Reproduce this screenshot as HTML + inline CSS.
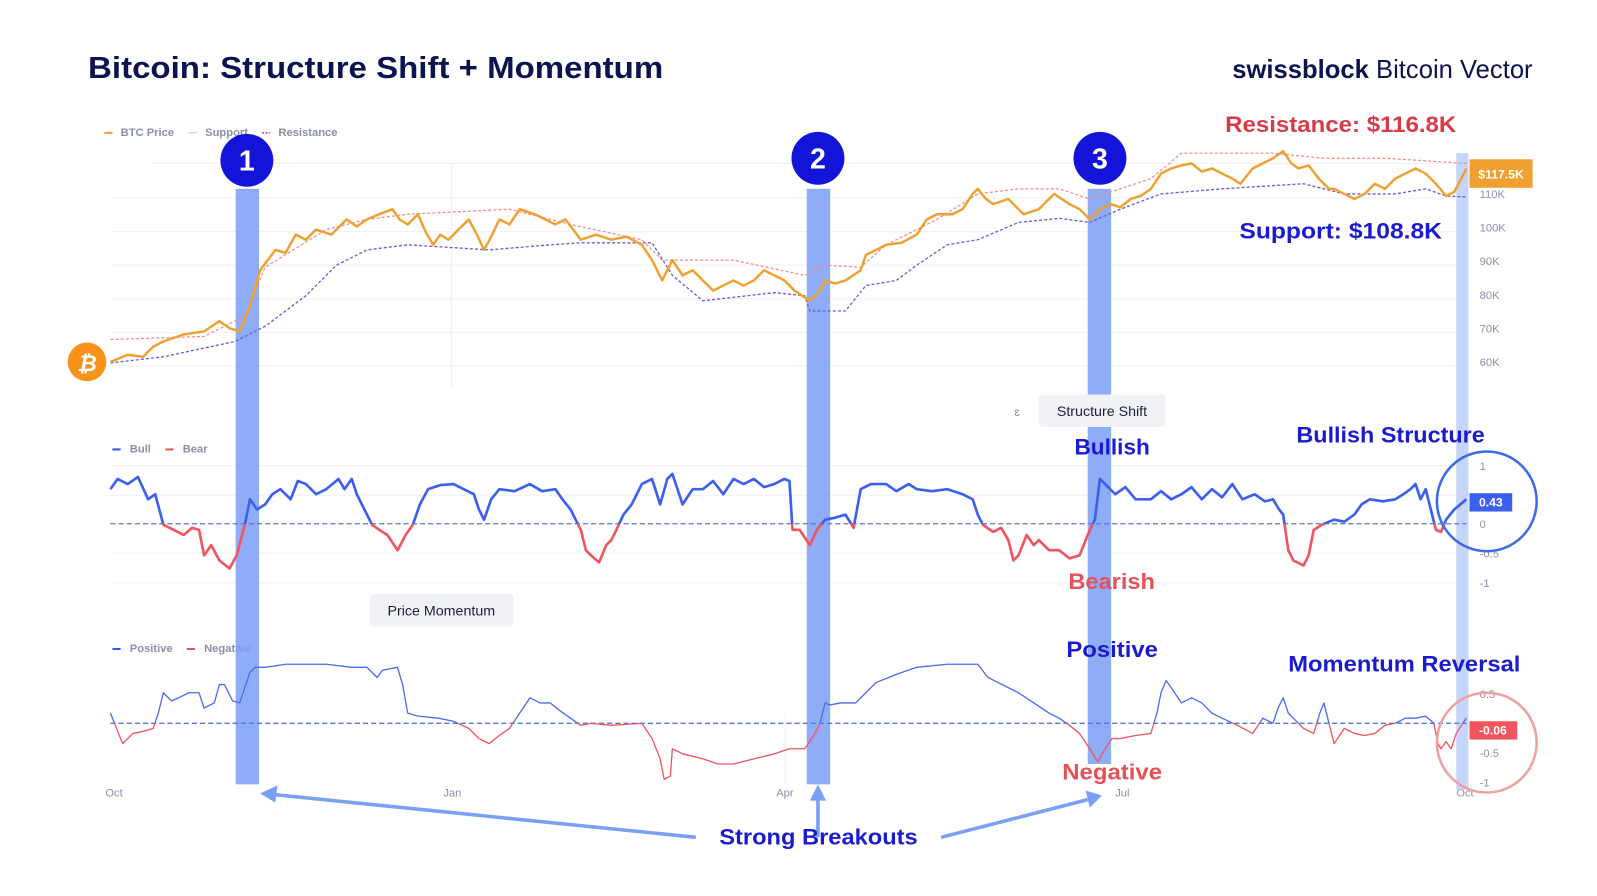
<!DOCTYPE html>
<html><head><meta charset="utf-8"><style>
html,body{margin:0;padding:0;background:#fff;}
svg{display:block;font-family:"Liberation Sans",sans-serif;}
</style></head><body>
<svg width="1597" height="896" viewBox="0 0 1597 896">
<defs>
<clipPath id="sa"><rect x="0" y="0" width="1597" height="514"/></clipPath>
<clipPath id="sb"><rect x="0" y="514" width="1597" height="400"/></clipPath>
<clipPath id="ma"><rect x="0" y="0" width="1597" height="710"/></clipPath>
<clipPath id="mb"><rect x="0" y="710" width="1597" height="400"/></clipPath>
</defs>
<rect width="1597" height="896" fill="#fff"/>
<g transform="translate(0.5,0.5) scale(1.018)">
<text x="86" y="76" font-size="30" font-weight="bold" fill="#0c1450" textLength="565" lengthAdjust="spacingAndGlyphs">Bitcoin: Structure Shift + Momentum</text>
<text x="1210" y="76" font-size="25" font-weight="bold" fill="#0c1450" textLength="295" lengthAdjust="spacingAndGlyphs">swissblock <tspan font-weight="normal">Bitcoin Vector</tspan></text>

<g font-size="11" font-weight="bold" fill="#8a8fa8">
<line x1="102" y1="130" x2="110" y2="130" stroke="#f0a030" stroke-width="2"/><text x="118" y="133">BTC Price</text>
<line x1="185" y1="130" x2="193" y2="130" stroke="#b8c4e8" stroke-width="1"/><text x="201" y="133">Support</text>
<line x1="257" y1="130" x2="265" y2="130" stroke="#d04060" stroke-width="1.5" stroke-dasharray="2,1.5"/><text x="273" y="133">Resistance</text>
<line x1="110" y1="441" x2="118" y2="441" stroke="#3355ee" stroke-width="2"/><text x="127" y="444">Bull</text>
<line x1="162" y1="441" x2="170" y2="441" stroke="#ee5555" stroke-width="2"/><text x="179" y="444">Bear</text>
<line x1="110" y1="637" x2="118" y2="637" stroke="#3355ee" stroke-width="2"/><text x="127" y="640">Positive</text>
<line x1="183" y1="637" x2="191" y2="637" stroke="#ee5555" stroke-width="2"/><text x="200" y="640">Negative</text>
</g>

<g stroke="#eef0f4" stroke-width="1">
<line x1="150" y1="160" x2="1440" y2="160"/><line x1="108" y1="194" x2="1440" y2="194"/>
<line x1="108" y1="227" x2="1440" y2="227"/><line x1="108" y1="260" x2="1440" y2="260"/>
<line x1="108" y1="293" x2="1440" y2="293"/><line x1="108" y1="326" x2="1440" y2="326"/>
<line x1="108" y1="359" x2="1440" y2="359"/>
<line x1="108" y1="457" x2="1440" y2="457"/><line x1="108" y1="486" x2="1440" y2="486"/>
<line x1="108" y1="543" x2="1440" y2="543"/><line x1="108" y1="572" x2="1440" y2="572"/>
<line x1="443" y1="160" x2="443" y2="380"/>
<line x1="771" y1="700" x2="771" y2="770"/>
</g>
<g font-size="11" fill="#8a8fa8">
<text x="1453" y="194">110K</text><text x="1453" y="227">100K</text><text x="1453" y="260">90K</text>
<text x="1453" y="293">80K</text><text x="1453" y="326">70K</text><text x="1453" y="359">60K</text>
<text x="1453" y="461">1</text><text x="1453" y="518">0</text><text x="1453" y="547">-0.5</text><text x="1453" y="576">-1</text>
<text x="1453" y="685">0.5</text><text x="1453" y="743">-0.5</text><text x="1453" y="772">-1</text>
<text x="103" y="782">Oct</text><text x="435" y="782">Jan</text><text x="762" y="782">Apr</text><text x="1095" y="782">Jul</text><text x="1430" y="782">Oct</text>
</g>

<rect x="231" y="185" width="23" height="585" fill="#7a9ff5" opacity="0.85"/>
<rect x="792" y="185" width="23" height="585" fill="#7a9ff5" opacity="0.85"/>
<rect x="1068" y="185" width="23" height="565" fill="#7a9ff5" opacity="0.85"/>
<rect x="1430" y="150" width="12" height="625" fill="#c6d6fb"/>

<polyline fill="none" stroke="#6a5fd0" stroke-width="1.3" stroke-dasharray="3,2" points="108,356 160,350 230,335 260,320 300,290 330,260 360,245 400,240 480,245 540,240 570,238 640,238 660,270 690,295 760,287 790,290 795,305 830,305 850,280 880,275 900,260 930,240 960,235 1000,218 1040,214 1070,218 1100,205 1140,190 1200,185 1280,180 1320,190 1370,190 1400,185 1420,192 1440,193"/>
<polyline fill="none" stroke="#f08a90" stroke-width="1.2" stroke-dasharray="3,2" points="108,333 200,330 240,310 260,262 320,225 360,215 400,210 500,205 560,220 630,235 650,255 720,255 790,270 810,260 845,262 870,240 920,215 960,190 1000,185 1040,185 1070,195 1130,175 1160,150 1250,150 1300,155 1360,155 1440,160"/>
<polyline fill="none" stroke="#f0a030" stroke-width="2.4" stroke-linejoin="round" points="108,355 125,348 140,350 150,340 160,335 180,328 200,325 215,315 225,322 235,325 245,300 255,265 270,245 280,248 290,230 300,235 310,225 325,230 340,215 350,222 360,215 372,210 385,205 392,215 400,220 410,210 418,228 425,240 432,230 440,235 450,225 460,215 468,230 475,245 482,232 490,215 500,220 510,205 525,210 535,215 545,220 555,215 570,235 585,230 600,235 615,232 630,240 640,255 650,275 660,255 670,270 680,265 690,275 700,285 710,280 720,275 730,280 740,275 750,265 760,270 770,275 780,285 795,295 805,285 810,275 820,278 830,275 845,265 850,250 860,245 870,240 885,238 900,230 910,215 920,210 935,210 945,205 955,190 960,185 968,195 975,200 990,195 1000,205 1005,210 1020,205 1035,190 1050,200 1060,205 1070,215 1080,205 1090,200 1100,203 1110,195 1120,192 1130,185 1140,170 1150,165 1160,162 1170,160 1180,168 1190,165 1200,170 1210,175 1218,180 1230,165 1240,160 1250,155 1260,148 1268,160 1275,165 1285,162 1295,175 1305,185 1310,185 1320,190 1330,195 1340,190 1350,180 1360,185 1370,175 1380,170 1390,165 1400,170 1410,180 1420,192 1428,188 1435,175 1440,165"/>
<rect x="1443" y="156" width="62" height="28" fill="#f0a030"/>
<text x="1474" y="175" font-size="12" font-weight="bold" fill="#fff" text-anchor="middle">$117.5K</text>
<circle cx="85" cy="355" r="19" fill="#f7931a"/>
<text x="85" y="364" font-size="22" font-weight="bold" fill="#fff" text-anchor="middle" font-style="italic">₿</text>
<text x="1203" y="129" font-size="22" font-weight="bold" fill="#d83a48" textLength="227" lengthAdjust="spacingAndGlyphs">Resistance: $116.8K</text>
<text x="1217" y="234" font-size="22" font-weight="bold" fill="#1a1ad0" textLength="199" lengthAdjust="spacingAndGlyphs">Support: $108.8K</text>

<g font-size="28" font-weight="bold" fill="#fff" text-anchor="middle">
<circle cx="242" cy="157" r="26" fill="#1414d8"/><text x="242" y="167">1</text>
<circle cx="803" cy="155" r="26" fill="#1414d8"/><text x="803" y="165">2</text>
<circle cx="1080" cy="155" r="26" fill="#1414d8"/><text x="1080" y="165">3</text>
</g>

<rect x="1020" y="387" width="124" height="32" rx="3" fill="#f1f2f5"/>
<text x="1082" y="408" font-size="14" fill="#1a1f40" text-anchor="middle">Structure Shift</text>
<text x="996" y="408" font-size="12" fill="#888">ɛ</text>
<line x1="108" y1="514" x2="1440" y2="514" stroke="#5577dd" stroke-width="1.3" stroke-dasharray="5,3"/>
<polyline id="sp" fill="none" stroke-width="2.6" stroke-linejoin="round" points="108,480 115,470 125,475 135,468 145,490 152,485 160,515 170,520 180,525 188,518 195,520 200,545 207,535 215,550 225,558 232,545 240,515 245,490 252,500 260,495 267,485 275,480 285,490 292,472 300,475 310,485 320,480 332,470 338,480 345,470 350,485 355,495 365,515 372,520 380,525 390,540 398,525 405,515 412,495 420,480 432,476 445,475 455,480 465,485 470,500 475,510 482,490 490,480 505,482 520,475 532,482 545,480 552,490 560,500 565,510 570,520 575,540 580,545 588,552 595,535 600,530 605,520 612,505 620,495 630,475 640,470 648,495 655,470 660,465 670,495 680,480 690,480 700,472 710,485 720,470 730,475 740,470 750,478 760,475 770,470 775,472 778,520 785,520 795,535 802,520 810,510 820,508 830,505 838,518 845,480 855,475 870,475 880,482 892,475 900,480 915,482 930,480 945,485 955,490 960,505 965,515 975,522 983,518 990,530 995,550 1000,545 1008,525 1015,535 1020,530 1030,540 1040,540 1050,548 1060,545 1068,525 1075,510 1080,470 1088,478 1095,485 1105,478 1115,490 1130,490 1140,482 1150,490 1160,485 1170,478 1180,490 1190,480 1200,488 1210,475 1220,490 1232,485 1242,492 1250,490 1256,500 1260,505 1265,540 1270,550 1280,555 1285,545 1290,520 1298,515 1310,510 1320,512 1330,505 1337,495 1345,490 1358,492 1370,490 1378,485 1385,480 1390,475 1395,490 1400,480 1405,500 1410,520 1415,522 1420,510 1428,500 1440,490"/>
<use href="#sp" stroke="#3c5ff0" clip-path="url(#sa)"/>
<use href="#sp" stroke="#f05560" clip-path="url(#sb)"/>
<rect x="1443" y="484" width="42" height="18" fill="#3c5ff0"/>
<text x="1464" y="497" font-size="12" font-weight="bold" fill="#fff" text-anchor="middle">0.43</text>
<circle cx="1460" cy="492" r="49" fill="none" stroke="#3c6ae8" stroke-width="2.5"/>
<text x="1055" y="446" font-size="22" font-weight="bold" fill="#1a1ad0" textLength="74" lengthAdjust="spacingAndGlyphs">Bullish</text>
<text x="1273" y="434" font-size="22" font-weight="bold" fill="#1a1ad0" textLength="185" lengthAdjust="spacingAndGlyphs">Bullish Structure</text>
<text x="1049" y="578" font-size="22" font-weight="bold" fill="#e85058" textLength="85" lengthAdjust="spacingAndGlyphs">Bearish</text>

<rect x="363" y="583" width="141" height="32" rx="3" fill="#f1f2f5"/>
<text x="433" y="604" font-size="14" fill="#1a1f40" text-anchor="middle">Price Momentum</text>
<line x1="108" y1="710" x2="1440" y2="710" stroke="#5577dd" stroke-width="1.3" stroke-dasharray="5,3"/>
<polyline id="mp" fill="none" stroke-width="1.3" stroke-linejoin="round" points="108,700 114,715 120,730 130,720 140,718 150,715 155,700 160,680 168,688 175,685 185,680 195,680 200,695 210,690 215,672 220,672 228,688 235,690 240,675 245,660 250,655 260,655 280,652 320,652 345,655 360,655 370,665 375,658 390,655 395,672 400,700 410,703 430,705 445,708 460,715 470,725 480,730 490,722 500,715 510,700 520,685 530,690 540,690 550,698 560,705 570,712 580,710 600,712 630,710 640,725 648,745 652,765 658,762 660,735 670,740 690,745 705,750 720,750 740,745 760,740 775,735 790,735 800,720 805,710 810,690 815,692 825,690 840,690 850,680 860,670 880,662 900,655 930,652 960,652 970,665 980,670 990,675 1000,680 1015,690 1030,700 1040,705 1050,712 1060,720 1070,735 1078,748 1085,735 1092,725 1100,725 1115,722 1130,720 1136,700 1140,680 1145,668 1150,675 1160,690 1170,685 1180,690 1190,700 1200,705 1215,712 1230,720 1240,705 1250,710 1255,695 1260,685 1265,700 1270,705 1280,715 1290,720 1296,700 1300,690 1305,710 1310,730 1320,715 1330,720 1340,722 1350,720 1360,712 1370,710 1380,705 1390,705 1400,703 1408,710 1412,730 1415,735 1420,728 1425,735 1430,720 1435,712 1440,705"/>
<use href="#mp" stroke="#4a6cf0" clip-path="url(#ma)"/>
<use href="#mp" stroke="#f05560" clip-path="url(#mb)"/>
<rect x="1443" y="708" width="47" height="18" fill="#f05560"/>
<text x="1466" y="721" font-size="12" font-weight="bold" fill="#fff" text-anchor="middle">-0.06</text>
<circle cx="1460" cy="729" r="49" fill="none" stroke="#f0a0a0" stroke-width="2.5"/>
<text x="1047" y="645" font-size="22" font-weight="bold" fill="#1a1ad0" textLength="90" lengthAdjust="spacingAndGlyphs">Positive</text>
<text x="1265" y="659" font-size="22" font-weight="bold" fill="#1a1ad0" textLength="228" lengthAdjust="spacingAndGlyphs">Momentum Reversal</text>
<text x="1043" y="765" font-size="22" font-weight="bold" fill="#e85058" textLength="98" lengthAdjust="spacingAndGlyphs">Negative</text>

<g stroke="#7a9ff5" stroke-width="3.5" fill="#7a9ff5">
<line x1="683" y1="822" x2="268" y2="780"/>
<polygon points="255,779 272,771 270,788" stroke="none"/>
<line x1="803" y1="822" x2="803" y2="785"/>
<polygon points="803,770 795,786 811,786" stroke="none"/>
<line x1="924" y1="822" x2="1068" y2="785"/>
<polygon points="1082,781 1066,776 1070,793" stroke="none"/>
</g>
<text x="706" y="829" font-size="22" font-weight="bold" fill="#1a1ad0" textLength="195" lengthAdjust="spacingAndGlyphs">Strong Breakouts</text>
</g>
</svg>
</body></html>
